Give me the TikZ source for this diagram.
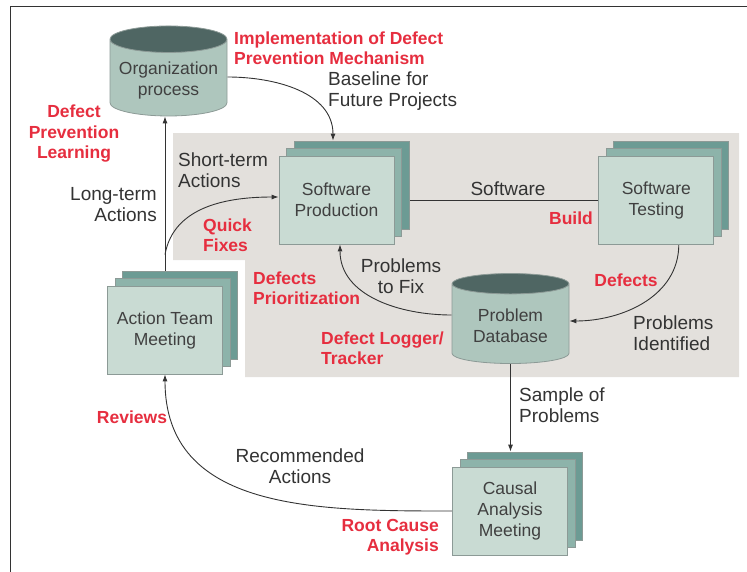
\documentclass[tikz,border=0pt]{standalone}
\usepackage{fontspec}
\setmainfont{Liberation Sans}
\usetikzlibrary{arrows.meta,positioning,shapes.geometric,shadows,backgrounds}
\definecolor{boxFront}{HTML}{C9DBD3}
\definecolor{boxMid}{HTML}{8DB3AA}
\definecolor{boxBack}{HTML}{6C9B94}
\definecolor{boxBorder}{HTML}{8C9A96}
\definecolor{cylBody}{HTML}{AEC6BD}
\definecolor{cylEnd}{HTML}{4F6663}
\definecolor{zoneGray}{HTML}{E3E0DC}
\definecolor{noteRed}{HTML}{E62E3F}
\definecolor{lineDark}{HTML}{333333}

\begin{document}
\begin{tikzpicture}[x=1pt,y=-1pt,
    stackbox/.style={
      rectangle, draw=boxBorder, fill=boxFront, line width=0.8pt,
      minimum width=115pt, minimum height=88pt, align=center,
      font=\fontsize{17.5}{21}\selectfont, text=black!75,
      copy shadow={shadow xshift=15pt, shadow yshift=15pt, fill=boxBack, draw=boxBorder},
      copy shadow={shadow xshift=7.5pt, shadow yshift=7.5pt, fill=boxMid, draw=boxBorder}
    },
    store/.style={
      cylinder, shape border rotate=90, aspect=0.25,
      draw=boxBorder, line width=0.8pt,
      cylinder uses custom fill, cylinder body fill=cylBody, cylinder end fill=cylEnd,
      minimum width=117pt, minimum height=90pt, align=center,
      font=\fontsize{17.5}{21}\selectfont, text=black!75
    },
    lbl/.style={font=\fontsize{19}{21}\selectfont, text=lineDark, align=left, inner sep=0pt},
    note/.style={font=\fontsize{17.5}{20.5}\selectfont\bfseries, text=noteRed, align=left, inner sep=0pt},
    arr/.style={-{Latex[length=7pt, width=5pt]}, line width=0.9pt, draw=lineDark}
  ]
    \useasboundingbox (0,0) rectangle (747,571);
    \draw[line width=1pt, lineDark] (10,580) -- (10,6) -- (747,6);
    \begin{scope}[on background layer]
      \fill[zoneGray] (173,133) -- (739,133) -- (739,377) -- (245,377) -- (245,260) -- (173,260) -- cycle;
    \end{scope}

    \node[store] (org) at (168.5,80) {Organization\\process};
    \node[stackbox] (sp) at (336.5,200) {Software\\Production};
    \node[stackbox, right=204pt of sp] (st) {Software\\Testing};
    \node[store] (pd) at (510.5,325.5) {Problem\\Database};
    \node[stackbox] (atm) at (165,330) {Action Team\\Meeting};
    \node[stackbox] (cam) at (510,511) {Causal\\Analysis\\Meeting};

    \coordinate (fork) at ([yshift=31pt]atm.north);
    \coordinate (camtop) at ([yshift=15pt]cam.north);

    \begin{scope}[on background layer]
      \draw[arr] ([yshift=3pt]org.east) to[out=0, in=90] ([shift={(-3.5pt,15pt)}]sp.north);
      \draw[arr] ([yshift=15pt]atm.north) -- (atm.north |- org.south);
      \draw[arr] (fork) to[out=80, in=180] ([yshift=3pt]sp.west);
      \draw[line width=0.9pt, lineDark] (sp.east) -- (st.west);
      \draw[arr] ([xshift=22.5pt]st.south) to[out=-90, in=0] ([yshift=4.5pt]pd.east);
      \draw[arr] ([yshift=10.5pt]pd.west) to[out=180, in=-90] ([xshift=3.5pt]sp.south);
      \draw[arr] (pd.south) -- (pd.south |- camtop);
      \draw[arr] (cam.west) to[out=180, in=-90, looseness=1.1] (atm.south);
    \end{scope}

    \node[note, anchor=west] (implnote) at (234,48) {Implementation of Defect\\Prevention Mechanism};
    \node[lbl, anchor=west] (baselbl) at (328,91) {Baseline for\\Future Projects};
    \node[note, align=center] (learnnote) at (74,134) {Defect\\Prevention\\Learning};
    \node[lbl, anchor=west] (shortlbl) at (178,170) {Short-term\\Actions};
    \node[lbl, align=right, anchor=east] (longlbl) at (157,205) {Long-term\\Actions};
    \node[note, anchor=west] (quicknote) at (203,235) {Quick\\Fixes};
    \node[note, anchor=west] (prionote) at (253,288) {Defects\\Prioritization};
    \node[lbl, align=center] (fixlbl) at (401,276) {Problems\\to Fix};
    \node[note] (defnote) at (626,280) {Defects};
    \node[note, anchor=west] (loggernote) at (321,348) {Defect Logger/\\Tracker};
    \node[lbl, anchor=west] (identlbl) at (633,333) {Problems\\Identified};
    \node[lbl, anchor=west] (samplelbl) at (519,405) {Sample of\\Problems};
    \node[note] (revnote) at (132,417) {Reviews};
    \node[lbl, align=center] (reclbl) at (300,466) {Recommended\\Actions};
    \node[note, align=right, anchor=east] (rootnote) at (439,537) {Root Cause\\Analysis};
    \node[lbl] (swlbl) at (508,189) {Software};
    \node[note] (buildnote) at (571,218) {Build};
\end{tikzpicture}
\end{document}
